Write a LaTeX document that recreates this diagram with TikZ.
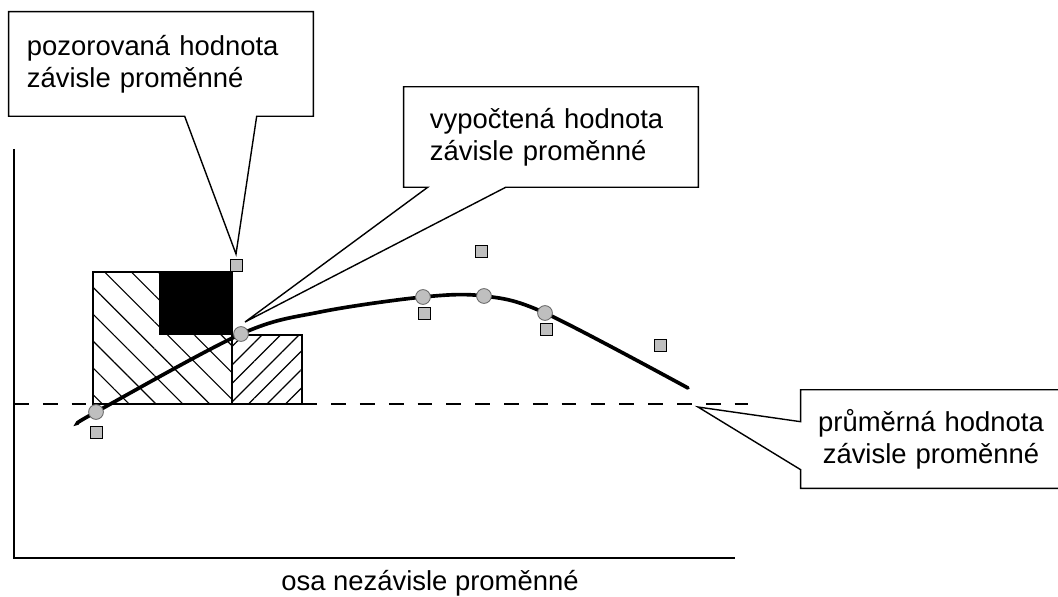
\documentclass[tikz,border=0pt]{standalone}
\usepackage{fontspec}
\setmainfont{Liberation Sans}
\usepackage{tikz}
\usetikzlibrary{calc,patterns.meta}

\begin{document}
\begin{tikzpicture}[
    x=0.025cm, y=-0.025cm,
    line join=miter,
    lbl/.style={font=\fontsize{19.5}{23}\selectfont},
    callout/.style={lbl, draw=none, minimum height=2.5cm, inner sep=0pt},
    obspt/.style={draw, line width=0.6pt, fill=gray!50, minimum size=0.3cm, inner sep=0pt},
    calcpt/.style={circle, draw=black!60, line width=0.6pt, fill=gray!50, minimum size=0.37cm, inner sep=0pt},
    frame/.style={line width=1pt}
]
    % --- rozmery obrazku ---
    \useasboundingbox (0,0) rectangle (1058,597);
    \clip (0,0) rectangle (1058,597);

    % --- 1. sraffovane obdelniky ---
    \draw[frame, pattern={Lines[angle=-45, distance=13.5pt, line width=0.8pt]}]
        (93,272) rectangle (232,404);
    \draw[frame, pattern={Lines[angle=45, distance=9.3pt, line width=0.8pt]}]
        (232,335) rectangle (302,404);
    % cerny ctverec
    \fill (159,272) rectangle (232,335);

    % --- 2. prumer (carkovana cara) ---
    \draw[line width=1.2pt, dash pattern=on 10.5pt off 10pt] (14,404) -- (748,404);

    % --- 3. regresni krivka ---
    \draw[line width=2.6pt, line cap=round] plot[smooth, tension=0.55] coordinates
        {(78,423) (96,412) (241,334) (320,312) (423,297) (484,296) (545,313) (688,388)};

    % vypoctene hodnoty (kolecka)
    \node[calcpt] (c1) at (96,412) {};
    \node[calcpt] (c2) at (241,334) {};
    \node[calcpt] (c3) at (423,297) {};
    \node[calcpt] (c4) at (484,296) {};
    \node[calcpt] (c5) at (545,313) {};

    % pozorovane hodnoty (ctverecky)
    \node[obspt] (o1) at (96,432) {};
    \node[obspt] (o2) at (236,265) {};
    \node[obspt] (o3) at (424,313) {};
    \node[obspt] (o4) at (481,251) {};
    \node[obspt] (o5) at (546,329) {};
    \node[obspt] (o6) at (660,345) {};

    % --- 4. osy ---
    \draw[line width=1.3pt] (14,149) -- (14,558) -- (735,558);
    \node[lbl, anchor=base] (xlab) at (430,590) {osa nezávisle proměnné};

    % --- 5. popisky (bubliny) ---
    % pozorovana hodnota
    \node[callout, minimum width=7.6cm, minimum height=2.6cm, text width=6.7cm, align=left]
        (obs) at (161,64) {pozorovaná hodnota\\závisle proměnné};
    \coordinate (obstip) at (236,254);
    \draw[frame] (obs.south west) -- (obs.north west) -- (obs.north east) -- (obs.south east)
        -- ($(obs.south west)+(248,0)$) -- (obstip) -- ($(obs.south west)+(176,0)$) -- cycle;

    % vypoctena hodnota
    \node[callout, minimum width=7.35cm, text width=6.05cm, align=left]
        (fit) at (551,137) {vypočtená hodnota\\závisle proměnné};
    \coordinate (fittip) at (245,322);
    \draw[frame] (fit.south west) -- (fit.north west) -- (fit.north east) -- (fit.south east)
        -- ($(fit.south west)+(102,0)$) -- (fittip) -- ($(fit.south west)+(24,0)$) -- cycle;

    % prumerna hodnota
    \node[callout, minimum width=6.5cm, minimum height=2.45cm, text width=6.5cm, align=center]
        (mean) at (931,439) {průměrná hodnota\\závisle proměnné};
    \coordinate (meantip) at (698,407);
    \draw[frame] (mean.north west) -- (mean.north east) -- (mean.south east) -- (mean.south west)
        -- ($(mean.north west)+(0,80)$) -- (meantip) -- ($(mean.north west)+(0,32)$) -- cycle;

\end{tikzpicture}
\end{document}
